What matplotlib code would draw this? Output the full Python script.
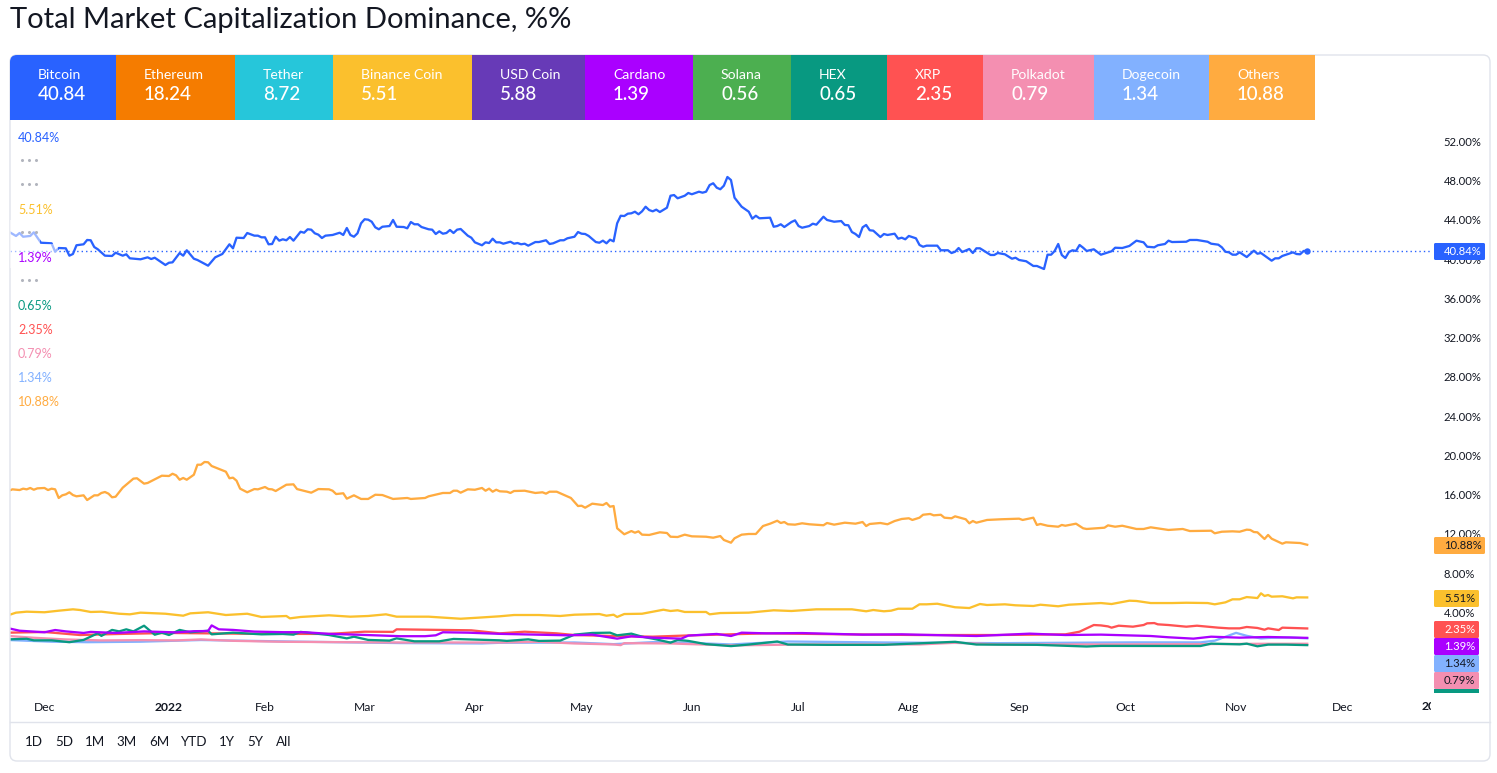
import numpy as np
import matplotlib
matplotlib.use("Agg")
import matplotlib.pyplot as plt
import matplotlib.dates as mdates
from matplotlib.patches import Rectangle, FancyBboxPatch
from matplotlib.transforms import Bbox

plt.rcParams['font.family'] = ['Lato', 'DejaVu Sans']

TITLE = "Total Market Capitalization Dominance, %%"
names = ["Bitcoin", "Ethereum", "Tether", "Binance Coin", "USD Coin", "Cardano", "Solana", "HEX", "XRP", "Polkadot", "Dogecoin", "Others"]
last_vals = ["40.84", "18.24", "8.72", "5.51", "5.88", "1.39", "0.56", "0.65", "2.35", "0.79", "1.34", "10.88"]
colors = ["#2962FF", "#F57C00", "#26C6DA", "#FBC02D", "#673AB7", "#AA00FF", "#4CAF50", "#089981", "#FF5252", "#F48FB1", "#82B1FF", "#FFAB40"]
hidden = ["Ethereum", "Tether", "USD Coin", "Solana"]
start_date = np.datetime64('2021-11-21')

btc_days = [0,2,3,4,6,7,9,12,13,14,16,17,18,19,21,22,23,24,25,27,29,30,32,33,34,37,39,40,41,44,45,46,48,49,50,52,53,56,58,60,62,63,64,66,67,69,70,71,72,73,74,75,76,77,78,79,80,82,83,84,85,86,87,88,89,91,93,94,95,96,97,98,99,100,101,102,103,104,105,107,108,109,111,112,113,114,115,116,118,119,120,121,122,123,124,125,126,127,129,130,131,133,134,135,136,137,138,139,141,142,143,144,145,146,148,149,151,152,153,155,156,157,159,160,161,162,163,165,166,167,168,169,170,171,172,173,174,175,176,177,178,179,180,181,182,183,185,186,187,188,190,191,192,194,195,196,197,198,199,200,201,202,203,204,206,208,209,210,211,214,215,216,217,218,220,221,222,223,225,226,227,229,230,232,234,235,236,237,238,239,240,241,242,243,245,246,247,249,250,251,252,253,255,256,257,258,261,262,264,265,266,267,268,270,271,272,273,276,277,278,280,282,283,284,286,288,289,291,292,293,294,295,296,297,298,299,300,301,302,303,305,307,309,310,311,313,315,317,319,320,322,323,325,326,327,331,332,334,337,338,340,341,342,343,344,345,346,348,350,351,352,355,356,357,358,361,362,363,364,365]
btc_vals = [42.79,42.36,42.66,42.28,42.36,42.73,41.67,41.61,40.75,41.13,41.10,40.35,40.52,41.41,41.51,41.95,41.92,41.23,41.0,40.35,40.32,40.65,40.35,40.49,40.08,39.98,40.18,40.01,40.14,39.40,39.63,39.67,40.62,40.35,40.90,40.04,39.91,39.33,40.18,40.52,41.51,41.10,42.18,42.15,42.66,42.39,42.39,42.22,42.22,41.51,41.54,42.28,41.88,42.02,41.92,42.25,41.88,42.79,42.69,43.04,43.0,42.63,42.49,42.15,42.39,42.46,42.69,42.46,43.17,42.46,42.28,42.63,43.65,44.06,44.02,43.81,43.24,43.04,43.30,43.37,43.99,43.30,43.27,43.14,43.78,43.55,43.55,43.27,43.04,43.0,42.56,42.83,42.59,42.66,42.97,42.66,43.0,43.07,42.39,42.18,41.71,41.41,41.71,41.64,42.08,41.71,41.71,41.57,41.77,41.57,41.64,41.51,41.57,41.37,41.74,41.74,41.92,41.54,41.61,41.92,41.92,42.12,42.28,42.76,42.59,42.56,42.36,41.74,41.67,41.88,41.61,41.98,41.81,43.65,44.42,44.39,44.63,44.67,44.83,44.57,44.87,45.34,45.0,44.87,45.04,44.80,45.24,46.46,46.53,46.20,46.46,46.74,46.61,46.87,46.77,46.87,47.55,47.73,47.28,47.12,47.48,48.37,48.06,46.26,45.34,44.83,44.12,44.42,44.16,44.22,43.30,43.37,43.55,43.27,43.78,43.95,43.37,43.20,43.37,43.61,43.51,44.32,43.99,43.81,43.88,43.48,43.45,42.76,42.56,42.25,43.24,43.48,42.94,42.90,42.25,42.56,42.46,42.59,42.08,42.18,42.02,42.36,42.12,41.44,41.26,41.37,41.37,40.90,40.90,40.62,40.75,41.13,40.72,41.03,40.62,41.10,41.10,40.42,40.42,40.62,40.49,40.04,40.14,39.91,39.78,39.30,39.30,38.99,40.45,40.45,40.83,41.54,40.42,40.11,40.72,40.90,40.83,41.44,41.16,40.83,41.0,40.45,40.69,40.80,41.16,41.13,41.34,41.88,41.71,41.26,41.20,41.41,41.54,41.88,41.74,41.77,41.95,41.95,41.77,41.57,41.47,41.20,40.75,40.69,40.45,40.45,40.69,40.21,40.86,40.55,40.62,39.84,40.08,40.08,40.32,40.69,40.52,40.49,40.83,40.84]

oth_days = [0,1,3,4,5,6,7,8,10,11,12,13,14,15,16,17,18,19,21,22,24,25,26,27,28,29,30,32,35,36,38,39,41,43,45,46,47,48,49,50,52,53,54,55,56,57,61,62,63,64,65,67,69,70,72,73,74,75,78,80,81,85,87,90,91,92,94,95,97,99,101,103,105,108,112,113,117,118,122,124,125,126,127,129,131,133,134,135,136,137,138,140,141,142,145,148,150,151,152,154,158,160,161,162,164,167,168,169,170,171,173,175,176,177,178,180,183,185,186,188,190,192,196,198,200,201,203,204,206,208,210,212,214,216,217,218,219,221,223,225,229,230,232,235,238,240,241,242,245,247,249,251,253,254,256,257,259,260,262,263,265,266,269,270,271,272,275,279,284,285,288,289,290,292,295,296,297,300,302,303,308,309,311,313,317,319,321,326,330,332,338,339,341,344,346,348,349,350,351,353,354,355,358,359,363,365]
oth_vals = [16.39,16.53,16.46,16.60,16.53,16.67,16.49,16.63,16.67,16.46,16.60,16.53,15.65,15.92,16.02,16.23,15.95,15.82,15.92,15.44,15.92,15.92,16.16,16.26,16.09,15.72,15.78,16.70,17.62,17.66,17.11,17.18,17.55,17.92,17.89,18.12,17.96,17.51,17.69,17.51,18.02,19.04,19.04,19.32,19.29,18.91,18.33,17.66,17.72,17.41,16.60,16.23,16.56,16.53,16.77,16.56,16.53,16.36,17.0,17.04,16.56,16.19,16.56,16.53,16.39,16.05,16.13,15.58,15.92,15.55,15.55,15.98,15.95,15.55,15.65,15.55,15.65,15.82,16.16,16.16,16.39,16.39,16.19,16.53,16.49,16.67,16.39,16.60,16.29,16.49,16.33,16.29,16.16,16.36,16.39,16.16,16.23,16.09,16.29,16.29,15.65,14.83,14.86,14.66,15.07,14.93,15.14,14.76,14.83,12.56,11.95,12.28,12.11,12.25,11.91,11.88,12.15,12.08,11.70,11.67,11.91,11.74,11.70,11.60,11.77,11.37,11.09,11.54,11.91,11.98,11.98,12.79,13.03,13.33,13.10,13.20,12.97,12.93,13.07,12.97,12.87,13.10,12.93,13.13,13.03,13.20,12.79,13.0,13.10,12.97,13.30,13.51,13.58,13.41,13.64,13.94,14.02,13.88,13.94,13.64,13.58,13.78,13.48,13.07,13.30,13.13,13.41,13.48,13.54,13.41,13.64,12.90,13.0,12.82,12.72,12.90,12.82,13.03,12.56,12.49,12.62,12.86,12.72,12.82,12.49,12.49,12.66,12.39,12.49,12.28,12.31,12.05,12.21,12.25,12.21,12.42,12.39,12.18,12.15,11.47,11.88,11.50,10.99,11.13,11.06,10.88]

bnb_days = [0,2,5,10,14,18,20,23,26,31,34,37,44,49,51,56,61,67,71,78,79,82,90,96,101,106,109,118,127,132,138,142,149,155,159,166,168,170,171,173,178,184,186,188,190,196,197,200,208,215,220,227,237,241,243,246,248,250,254,256,258,261,266,270,273,275,280,283,288,290,295,298,307,310,315,317,321,327,331,337,339,342,344,346,348,351,352,353,354,355,358,361,362,365]
bnb_vals = [3.72,3.96,4.06,4.0,4.16,4.30,4.23,4.03,4.06,3.85,3.79,3.96,3.85,3.65,3.89,4.0,3.72,3.85,3.52,3.62,3.38,3.52,3.69,3.55,3.62,3.79,3.55,3.55,3.34,3.45,3.59,3.72,3.72,3.62,3.75,3.82,3.65,3.75,3.52,3.82,3.85,4.26,4.13,4.20,4.03,4.03,3.79,3.92,3.96,4.20,4.13,4.30,4.30,4.10,4.23,4.10,4.16,4.36,4.36,4.81,4.81,4.87,4.51,4.43,4.84,4.74,4.81,4.71,4.64,4.77,4.61,4.77,4.94,4.84,5.18,5.15,4.94,4.94,4.97,4.94,4.81,5.01,5.32,5.32,5.55,5.45,5.93,5.66,5.76,5.59,5.63,5.42,5.52,5.51]

xrp_days = [0,10,20,30,45,70,90,100,108,109,130,138,145,154,159,170,181,192,213,235,256,278,297,301,303,305,307,309,310,312,316,319,320,322,323,326,331,334,340,343,346,348,351,353,354,357,358,365]
xrp_vals = [1.92,1.99,1.68,1.78,1.89,1.80,1.79,2.02,2.0,2.26,2.16,1.85,2.02,1.85,1.68,1.58,1.51,1.65,1.85,1.75,1.68,1.68,1.75,2.02,2.36,2.70,2.66,2.56,2.43,2.63,2.53,2.70,2.87,2.90,2.77,2.70,2.53,2.63,2.43,2.36,2.36,2.50,2.40,2.22,2.36,2.19,2.43,2.35]

ada_days = [0,3,10,13,16,21,23,30,38,47,52,56,57,59,63,69,77,83,90,99,110,117,120,122,129,138,157,164,171,175,181,189,191,199,203,206,213,223,240,251,272,287,297,307,321,326,333,338,346,354,365]
ada_vals = [2.36,2.12,1.96,2.19,2.05,1.89,2.0,1.89,2.05,1.95,2.07,2.09,2.66,2.26,2.2,2.03,1.97,1.97,1.8,1.7,1.56,1.56,1.65,1.96,1.92,1.8,1.65,1.72,1.31,1.55,1.41,1.31,1.62,1.79,1.58,1.92,1.85,1.88,1.72,1.75,1.58,1.82,1.68,1.72,1.58,1.45,1.31,1.51,1.41,1.48,1.39]

hex_days = [0,5,7,12,17,21,25,26,29,31,33,35,38,41,43,45,48,51,56,57,63,71,77,80,82,90,95,97,101,107,109,114,121,125,138,140,146,149,155,159,164,169,171,175,178,182,186,188,191,196,203,208,216,219,230,246,266,272,289,303,307,335,338,346,348,351,354,359,365]
hex_vals = [1.24,1.30,1.14,1.14,0.95,1.18,1.86,1.59,2.2,2.05,2.26,2.05,2.63,1.71,1.92,1.68,2.2,1.96,2.12,1.75,1.92,1.75,1.79,1.72,2.0,1.68,1.34,1.51,1.18,1.11,1.34,1.04,1.04,1.28,1.14,1.08,1.24,1.08,1.11,1.72,1.89,1.92,1.65,1.82,1.51,1.24,0.9,1.18,1.08,0.75,0.55,0.71,1.02,0.71,0.68,0.68,0.99,0.71,0.68,0.51,0.57,0.56,0.8,0.73,0.8,0.53,0.7,0.7,0.65]

dot_days = [0,7,16,26,37,47,54,63,77,91,110,138,149,159,170,172,173,186,203,224,256,266,278,307,335,354,365]
dot_vals = [1.58,1.4,1.23,1.13,1.16,1.13,1.23,1.09,0.99,0.96,0.92,0.92,0.99,0.82,0.72,0.65,0.85,0.82,0.62,0.72,0.72,0.89,0.72,0.72,0.75,0.79,0.79]

doge_days = [0,12,22,37,54,82,110,133,138,159,170,183,203,219,246,278,307,316,335,339,342,345,348,352,355,360,365]
doge_vals = [1.17,1.0,0.95,1.0,1.17,1.0,0.86,0.82,0.89,0.92,0.75,0.99,0.72,1.02,0.92,0.85,0.91,0.93,0.93,1.1,1.5,1.9,1.6,1.33,1.4,1.43,1.34]

y_ticks = [4, 8, 12, 16, 20, 24, 28, 32, 36, 40, 44, 48, 52]
month_dates = ['2021-12-01', '2022-01-05', '2022-02-01', '2022-03-01', '2022-04-01', '2022-05-01', '2022-06-01', '2022-07-01', '2022-08-01', '2022-09-01', '2022-10-01', '2022-11-01', '2022-12-01']
month_labels = ['Dec', '2022', 'Feb', 'Mar', 'Apr', 'May', 'Jun', 'Jul', 'Aug', 'Sep', 'Oct', 'Nov', 'Dec']
ranges = ["1D", "5D", "1M", "3M", "6M", "YTD", "1Y", "5Y", "All"]

plotted = [("Others", oth_days, oth_vals), ("Dogecoin", doge_days, doge_vals), ("Polkadot", dot_days, dot_vals),
           ("XRP", xrp_days, xrp_vals), ("HEX", hex_days, hex_vals), ("Cardano", ada_days, ada_vals),
           ("Binance Coin", bnb_days, bnb_vals), ("Bitcoin", btc_days, btc_vals)]

# ---- layout (pixels) ----
W, H = 1497, 773
TEXT = "#131722"
fig = plt.figure(figsize=(W / 100, H / 100), dpi=100, facecolor="white")
AL, AR, AT, AB = 10, 1431, 120, 693
ax = fig.add_axes([AL / W, 1 - AB / H, (AR - AL) / W, (AB - AT) / H], zorder=1)
ax.patch.set_alpha(0)
for s in ax.spines.values():
    s.set_visible(False)

cmap = dict(zip(names, colors))
for i, (nm, d, v) in enumerate(plotted):
    ax.plot(start_date + np.array(d, dtype='timedelta64[D]'), v, color=cmap[nm], lw=1.65,
            solid_joinstyle='round', zorder=3 + i)

last_day = start_date + np.timedelta64(btc_days[-1], 'D')
ax.axhline(btc_vals[-1], color=colors[0], lw=1, ls=(0, (1, 2.2)), zorder=2)
ax.plot([last_day], [btc_vals[-1]], 'o', ms=4.6, color=colors[0], mec='none', zorder=20)

d0 = mdates.date2num(start_date)
ax.set_xlim(d0 + 0.31, d0 + 399.8)
ax.set_ylim(-4.23, 54.18)
ax.yaxis.tick_right()
ax.set_yticks(y_ticks)
ax.set_yticklabels([f"{t:.2f}%" for t in y_ticks], fontsize=8.1, color=TEXT, ha='left')
ax.tick_params(axis='y', length=0, pad=9.0)
ax.set_xticks([mdates.date2num(np.datetime64(m)) for m in month_dates])
ax.set_xticklabels(month_labels, fontsize=8.7, color=TEXT)
ax.tick_params(axis='x', length=0, pad=6.5)
ax.get_xticklabels()[1].set_fontweight('bold')

# ---- overlay in pixel coordinates ----
ui = fig.add_axes([0, 0, 1, 1], zorder=5)
ui.set_xlim(0, W)
ui.set_ylim(H, 0)
ui.axis('off')
ui.patch.set_alpha(0)

ui.text(10, 20, TITLE, fontsize=21, color=TEXT, va='center', ha='left')

card = FancyBboxPatch((10, 55), 1480, 706, boxstyle="round,pad=0,rounding_size=7", fc='none', ec='#e0e3eb', lw=1)
ui.add_patch(card)
ui.plot([10, 1490], [721.5, 721.5], color='#e0e3eb', lw=1)

tile_edges = [10, 116, 235, 333, 472, 585, 693, 791, 887, 983, 1094, 1209, 1315]
for i, nm in enumerate(names):
    l, r = tile_edges[i], tile_edges[i + 1]
    tile = Rectangle((l, 55), r - l, 64.5, fc=colors[i], ec='none')
    ui.add_patch(tile)
    tile.set_clip_path(card)
    ui.text(l + 28, 75, nm, fontsize=10.1, color='white', va='center', ha='left')
    ui.text(l + 28, 94, last_vals[i], fontsize=13.5, color='white', va='center', ha='left', fontweight='medium')

# translucent legend rows over the lines
ui.add_patch(Rectangle((10, 220), 30, 24, fc='white', ec='none', alpha=0.55))
ui.add_patch(Rectangle((10, 244), 48, 24, fc='white', ec='none', alpha=0.55))

leg_order = ["Bitcoin", "Ethereum", "Tether", "Binance Coin", "USD Coin", "Cardano", "Solana", "HEX", "XRP", "Polkadot", "Dogecoin", "Others"]
vals = dict(zip(names, last_vals))
for i, nm in enumerate(leg_order):
    y = 137.5 + 24 * i
    if nm in hidden:
        ui.plot([22, 29, 36], [y - 2, y - 2, y - 2], ls='none', marker='o', ms=2.2, color='#b2b5be', mec='none')
    else:
        ui.text(18, y, vals[nm] + "%", fontsize=9.0, color=cmap[nm], va='center', ha='left')

# price-scale badges
badges = [("Bitcoin", 243, 'white'), ("Others", 537, TEXT), ("Binance Coin", 590, TEXT), ("XRP", 621, 'white'),
          ("Cardano", 638, 'white'), ("Dogecoin", 655, TEXT), ("Polkadot", 672, TEXT)]
for nm, top, tc in badges:
    w = 51 if len(vals[nm]) > 4 else 45
    ui.add_patch(FancyBboxPatch((1434, top), w, 17, boxstyle="round,pad=0,rounding_size=1.5", fc=cmap[nm], ec='none'))
    ui.text(1444, top + 8.5, vals[nm] + "%", fontsize=8.1, color=tc, va='center', ha='left')
ui.add_patch(Rectangle((1434, 689), 45, 4, fc=cmap["HEX"], ec='none'))

# clipped next-year label
t = ui.text(1422, 706, "2023", fontsize=8.7, color=TEXT, fontweight='bold', va='center', ha='left', clip_on=True)
t.set_clip_box(Bbox([[0, 0], [AR, H]]))

range_x = [34, 64, 95, 127, 159, 193.5, 227, 255, 284]
for x, lab in zip(range_x, ranges):
    ui.text(x, 742, lab, fontsize=9.6, color=TEXT, va='center', ha='center')

fig.savefig("out.png", dpi=100)
